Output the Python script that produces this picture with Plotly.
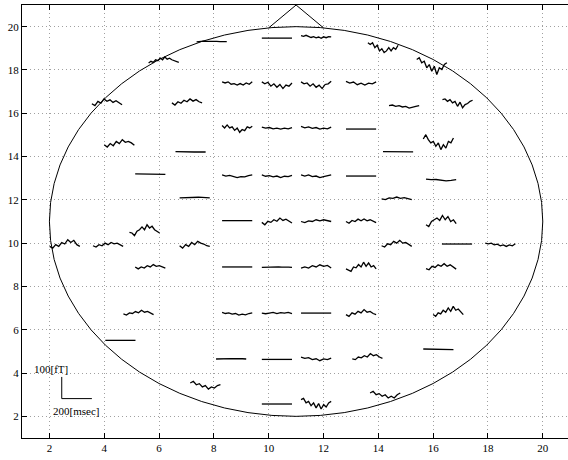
import plotly.graph_objects as go

# Sensor start positions (head-map coordinates) and waveforms (fT, over 200 msec)
sensor_x = [5.62, 3.55, 4.00, 6.47, 6.60, 7.37, 9.75, 11.18, 13.62, 8.30,
            9.75, 11.18, 12.82, 8.30, 9.75, 11.18, 12.82, 15.40, 16.34, 14.39,
            15.64, 14.17, 5.13, 6.75, 4.92, 2.01, 3.59, 6.75, 5.13, 8.30,
            9.75, 11.18, 12.82, 8.30, 9.75, 11.18, 12.82, 8.30, 9.75, 11.18,
            12.82, 15.74, 14.12, 15.74, 14.12, 16.32, 17.90, 15.74, 4.70, 4.04,
            7.14, 8.30, 9.75, 11.18, 12.82, 8.08, 9.75, 11.18, 13.05, 9.75,
            11.18, 13.70, 16.00, 15.64]
sensor_y = [18.32, 16.44, 14.55, 16.48, 14.23, 19.30, 19.47, 19.58, 19.26, 17.45,
            17.45, 17.45, 17.47, 15.43, 15.36, 15.39, 15.27, 18.48, 16.63, 16.35,
            14.81, 14.23, 13.20, 12.09, 10.50, 9.85, 9.88, 9.88, 8.90, 13.15,
            13.15, 13.15, 13.10, 11.04, 10.96, 11.00, 11.00, 8.90, 8.88, 8.85,
            8.81, 12.96, 12.04, 10.85, 9.88, 9.96, 10.00, 8.82, 6.73, 5.51,
            3.54, 6.80, 6.77, 6.77, 6.70, 4.65, 4.63, 4.74, 4.65, 2.57,
            2.77, 3.08, 6.70, 5.11]
waveforms_ft = [
    [0, 8, 3, 15, 11, 23, 15, 28, 18, 22, 15, 11, 6, 3],
    [0, -9, 11, 3, 22, 11, 18, 6, 14, 3, -5],
    [0, -11, 5, -5, 15, 5, 23, 11, 15, 8, -3],
    [0, -10, 5, -2, 12, 5, 18, 8, 15, 5, 0],
    [0, -1, -2, -2, -3, -2, -1, -2, -2],
    [0, 2, 3, 2, 3, 3, 2, 1, 0, 1],
    [0, 0],
    [0, -3, 2, -5, -8, -4, -10, -6, -12, -5, -9, -4, -5],
    [0, -8, 0, -23, -12, -38, -28, -46, -38, -23, -38, -23, -31, -12],
    [0, -5, 0, -11, -8, -15, -8, -15, -5, -11, 0],
    [0, -9, -2, -20, -9, -25, -12, -31, -15, -20, -5],
    [0, -9, -5, -20, -9, -25, -15, -31, -12, -9, 3],
    [0, -8, -3, -15, -8, -17, -8, -11, -2],
    [0, -11, 3, -11, -6, -22, -11, -31, -18, -23, -6, -11, -3],
    [0, -5, -2, -8, -5, -9, -5, -8, -2],
    [0, -6, -2, -9, -5, -12, -8, -11, -3],
    [0, 0],
    [0, 8, -15, -8, -38, -23, -54, -31, -69, -38, -46, -23, -15],
    [0, 3, -8, 0, -15, -8, -31, -12, -38, -23, -18, -8, -3],
    [0, 3, -3, 0, -6, -3, -11, -6, -3, 0],
    [0, 20, -3, -18, -11, -34, -18, -49, -26, -42, -11, -18, 5],
    [0, 0, -1, -1, -2, -1, -1],
    [0, 0, -1, -1, -2, -2, -2, -2],
    [0, 1, 1, 2, 2, 3, 2, 1, 0],
    [0, -3, -15, 5, 12, 25, 12, 35, 20, 28, 12, 5, -3],
    [0, -8, 8, 0, 18, 11, 31, 18, 28, 8, 0],
    [0, -6, 5, 0, 12, 5, 15, 9, 12, 5, -3],
    [0, -11, 5, -3, 15, 5, 20, 12, 8, 0, -3],
    [0, -9, 0, -5, 6, 0, 11, 3, 6, 0, -5],
    [0, -5, -2, -8, -12, -8, -9, -3, 0],
    [0, -6, -3, -9, -5, -12, -6, -8, -2],
    [0, -5, 0, -8, -5, -12, -8, -5, 0],
    [0, 0],
    [0, 0],
    [0, -11, 5, 0, 12, 5, 20, 9, 15, 5, -3],
    [0, -5, 3, 0, 8, 3, 8, 3, 0],
    [0, -8, 5, 0, 11, 3, 12, 3, 8, 0, -5],
    [0, 0],
    [0, 1, 2, 1, 2, 2, 1, 2, 1, 0],
    [0, 5, 0, 11, 5, 15, 8, 12, 0],
    [0, -6, -11, 9, 5, 20, 9, 31, 12, 28, 9, 15, 0],
    [0, -3, -2, -5, -8, -6, -3],
    [0, -3, 5, 3, 9, 3, 6, 0, -3],
    [0, -8, 15, 23, 31, 20, 43, 23, 38, 15, 23, 5],
    [0, -6, 9, 5, 20, 12, 25, 12, 15, 5, -3],
    [0, 0],
    [0, -3, 0, -8, -5, -12, -8, -15, -8, -12, -3],
    [0, -5, 11, 6, 18, 11, 23, 11, 18, 8, -2],
    [0, -5, 5, 2, 11, 5, 17, 8, 12, 5, -3],
    [0, 0],
    [0, 8, -8, -3, -18, -12, -28, -18, -23, -12, -8],
    [0, -5, -2, -8, -5, -12, -8, -11, -5, -2],
    [0, -3, 0, 3, -2, 2, 0, 3, -3],
    [0, 0],
    [0, -8, 8, 2, 15, 8, 23, 11, 15, 5, 0],
    [0, 1, 2, 1, 2, 1, 2, 1, 0],
    [0, 0],
    [0, -6, -3, -12, -8, -17, -9, -12, -5],
    [0, -3, 9, 5, 15, 9, 25, 15, 20, 9, 3],
    [0, 0],
    [0, 6, -15, -8, -28, -15, -38, -18, -43, -23, -34, -15, -8],
    [0, 8, -8, -3, -15, -8, -23, -15, -23, -8, 0],
    [0, -8, 8, 3, 20, 11, 31, 15, 38, 20, 26, 11, 0],
    [0, 0, -1, -1, -2, -2, -3, -3],
]

tick_vals = [2, 4, 6, 8, 10, 12, 14, 16, 18, 20]

WINDOW_MS = 200.0          # duration of each waveform
MS_TO_UNIT = 1.1 / 200.0   # horizontal scale of a waveform
FT_TO_UNIT = 1.0 / 100.0   # vertical scale of a waveform

head_center = (11.0, 11.0)
head_radius = 9.0
nose_apex_y = 21.0

scale_origin = (2.45, 2.82)
scale_ft = 100
scale_ms = 200

fig = go.Figure()

xs, ys = [], []
for sx, sy, w in zip(sensor_x, sensor_y, waveforms_ft):
    n = len(w)
    for i, v in enumerate(w):
        t = WINDOW_MS * i / (n - 1)
        xs.append(sx + t * MS_TO_UNIT)
        ys.append(sy + v * FT_TO_UNIT)
    xs.append(None)
    ys.append(None)

fig.add_trace(go.Scatter(x=xs, y=ys, mode="lines",
                         line=dict(color="black", width=1.3),
                         hoverinfo="skip", showlegend=False))

# head outline
cx, cy = head_center
r = head_radius
fig.add_shape(type="circle", xref="x", yref="y",
              x0=cx - r, y0=cy - r, x1=cx + r, y1=cy + r,
              line=dict(color="black", width=1))
# nose
nb = (r**2 - 1.0) ** 0.5
fig.add_trace(go.Scatter(x=[cx - 1, cx, cx + 1], y=[cy + nb, nose_apex_y, cy + nb],
                         mode="lines", line=dict(color="black", width=1),
                         hoverinfo="skip", showlegend=False))

# scale bar
ox, oy = scale_origin
fig.add_trace(go.Scatter(
    x=[ox, ox, ox + scale_ms * MS_TO_UNIT],
    y=[oy + scale_ft * FT_TO_UNIT, oy, oy],
    mode="lines", line=dict(color="black", width=1),
    hoverinfo="skip", showlegend=False))

font = dict(family="Liberation Serif", size=11, color="black")
fig.add_annotation(x=1.38, y=4.2, text=f"{scale_ft}[fT]", showarrow=False,
                   xanchor="left", yanchor="middle", font=font)
fig.add_annotation(x=2.04, y=2.27, text=f"{scale_ms}[msec]", showarrow=False,
                   xanchor="left", yanchor="middle", font=font)

axis_common = dict(
    tickvals=tick_vals, ticks="inside", ticklen=5, tickcolor="black",
    showgrid=True, gridcolor="#a0a0a0", griddash="1px,3px", gridwidth=1,
    zeroline=False, showline=True, linecolor="black", linewidth=1,
    tickfont=font,
)

fig.update_layout(
    width=568, height=460,
    margin=dict(l=22, r=0, t=5, b=22),
    paper_bgcolor="white", plot_bgcolor="white",
    font=font,
    xaxis=dict(range=[1, 20.92], mirror="ticks", **axis_common),
    yaxis=dict(range=[1, 21], **axis_common),
    showlegend=False,
)

fig.write_html("out.html")
